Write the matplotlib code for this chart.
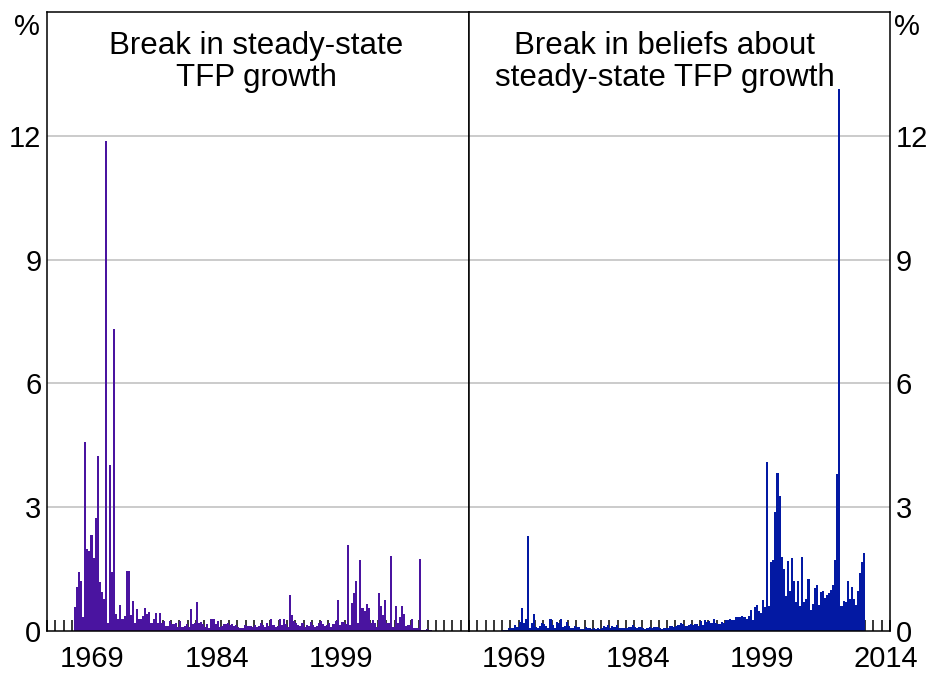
import matplotlib
matplotlib.use("Agg")
import matplotlib.pyplot as plt
import numpy as np
import pandas as pd
from matplotlib.ticker import FixedLocator, FixedFormatter, NullFormatter

plt.rcParams['font.family'] = ['Liberation Sans', 'DejaVu Sans']

# ---------------- data (quarterly probabilities, %) ----------------
left_start = '1967Q2'
left_values = [
    0.59, 1.07, 1.44, 1.22, 0.35, 4.59, 1.99, 1.94, 2.33, 1.78, 2.75, 4.23, 1.18, 0.94, 0.78, 11.88, 0.2, 4.02, 1.43, 7.32,
    0.41, 0.3, 0.63, 0.3, 0.36, 1.45, 1.45, 0.38, 0.72, 0.2, 0.53, 0.3, 0.3, 0.36, 0.55, 0.4, 0.46, 0.2, 0.3, 0.44,
    0.2, 0.44, 0.2, 0.24, 0.13, 0.13, 0.24, 0.18, 0.16, 0.2, 0.1, 0.24, 0.1, 0.13, 0.16, 0.1, 0.53, 0.18, 0.2, 0.7,
    0.2, 0.22, 0.16, 0.1, 0.16, 0.08, 0.3, 0.3, 0.18, 0.24, 0.1, 0.12, 0.16, 0.18, 0.2,
    0.15, 0.18, 0.12, 0.15, 0.1, 0.08, 0.08, 0.15, 0.12, 0.12, 0.12, 0.1, 0.15, 0.1, 0.12, 0.2, 0.15, 0.1, 0.2, 0.12,
    0.3, 0.15, 0.1, 0.12, 0.3, 0.15, 0.3, 0.18, 0.1,
    0.87, 0.39,
    0.25, 0.2, 0.15, 0.12, 0.2, 0.1, 0.15, 0.12, 0.22, 0.15, 0.1, 0.12, 0.2, 0.25, 0.18, 0.12, 0.15, 0.2, 0.1, 0.18, 0.25,
    0.75,
    0.15, 0.22, 0.22, 0.18,
    2.08, 0.15, 0.67, 0.92, 1.2, 0.2, 1.72, 0.55, 0.48, 0.65, 0.55, 0.2, 0.27, 0.2, 0.1,
    0.92, 0.6, 0.39, 0.75, 0.2, 0.2, 1.82, 0.1, 0.6, 0.2, 0.35, 0.6, 0.4, 0.12, 0.15, 0.15, 0.3, 0.08, 0.08, 0.08, 1.75,
    0.03, 0.03, 0.05, 0.03, 0.02,
]

right_start = '1968Q1'
right_values = [
    0.02, 0.02, 0.03, 0.07, 0.07, 0.07, 0.15, 0.1, 0.23, 0.55, 0.2, 0.28, 2.29, 0.07, 0.2, 0.41, 0.1, 0.07, 0.12, 0.2,
    0.17, 0.12, 0.07, 0.28, 0.15, 0.07, 0.23, 0.2, 0.28, 0.1, 0.12, 0.23, 0.12, 0.07, 0.07, 0.12, 0.09, 0.1, 0.04, 0.04,
    0.09, 0.07, 0.08, 0.06, 0.07, 0.05, 0.08, 0.06, 0.07, 0.12, 0.1, 0.15, 0.07, 0.12, 0.09, 0.15, 0.07, 0.08, 0.08, 0.07,
    0.08, 0.1, 0.1, 0.15, 0.1, 0.07, 0.09, 0.1, 0.08, 0.05, 0.07, 0.1, 0.07, 0.1, 0.09, 0.1, 0.07, 0.06, 0.07, 0.08, 0.07,
    0.12, 0.11, 0.1, 0.12, 0.145, 0.2, 0.17, 0.11, 0.12, 0.145, 0.18, 0.145, 0.18, 0.17, 0.12, 0.25, 0.145, 0.26, 0.21,
    0.25, 0.2, 0.28, 0.2, 0.18, 0.18, 0.22, 0.2, 0.26, 0.26, 0.3, 0.26, 0.26, 0.35, 0.33, 0.35, 0.36, 0.33, 0.3, 0.36,
    0.51, 0.26, 0.57, 0.63, 0.49, 0.44, 0.75, 0.59,
    4.1,
    0.6, 1.68, 1.72, 2.89, 3.84, 3.26, 1.8, 1.5, 0.85, 1.69, 0.98, 1.76, 1.21, 0.71, 1.21, 0.61, 1.8, 0.71, 0.77, 1.26,
    0.51, 0.65, 1.05, 1.11, 0.63, 0.94, 0.98, 0.81, 0.87, 0.91, 1.0, 1.11, 1.73, 3.81,
    13.13,
    0.61, 0.72, 0.71, 1.2, 0.77, 1.07, 0.77, 0.63, 0.98, 1.4, 1.68, 1.9,
]

left_title = "Break in steady-state\nTFP growth"
right_title = "Break in beliefs about\nsteady-state TFP growth"
left_xlabels = ['1969', '1984', '1999']
right_xlabels = ['1969', '1984', '1999', '2014']
yticks = [0, 3, 6, 9, 12]
x_range = (1964, 2015)

left_color = '#4A14A0'
right_color = '#0319A3'
FS = 21
TFS = 22.5


def quarter_x(start, n):
    p = pd.period_range(start, periods=n, freq='Q')
    return np.array(p.year + (p.quarter - 1) / 4.0 + 0.125)


W, H = 928, 677
fig = plt.figure(figsize=(W / 100, H / 100), dpi=100)
axL = fig.add_axes([47 / W, 46 / H, 422 / W, 619 / H])
axR = fig.add_axes([469 / W, 46 / H, 421 / W, 619 / H])


def style(ax, xs, vals, color, labels, side):
    for g in yticks[1:]:
        ax.axhline(g, color='#bdbdbd', lw=1.1, zorder=0)
    ax.bar(xs, vals, width=0.25, color=color, linewidth=0, zorder=2, align='center')
    ax.set_xlim(*x_range)
    ax.set_ylim(0, 15)
    years = np.arange(x_range[0], x_range[1] + 1)
    ax.xaxis.set_major_locator(FixedLocator(years))
    ax.xaxis.set_major_formatter(NullFormatter())
    ax.xaxis.set_minor_locator(FixedLocator([int(l) + 0.5 for l in labels]))
    ax.xaxis.set_minor_formatter(FixedFormatter(labels))
    ax.tick_params(axis='x', which='major', direction='in', length=8, width=1.1,
                   color='black', bottom=True, top=False)
    ax.tick_params(axis='x', which='minor', length=0, pad=10, labelsize=FS)
    ax.set_yticks(yticks)
    ax.set_yticklabels([str(v) for v in yticks])
    if side == 'left':
        ax.tick_params(axis='y', length=0, pad=4, labelsize=FS, left=True, right=False,
                       labelleft=True, labelright=False)
    else:
        ax.tick_params(axis='y', length=0, pad=4, labelsize=FS, left=False, right=True,
                       labelleft=False, labelright=True)
    for s in ax.spines.values():
        s.set_linewidth(1.1)
        s.set_color('black')
        s.set_zorder(3)


style(axL, quarter_x(left_start, len(left_values)), left_values, left_color, left_xlabels, 'left')
style(axR, quarter_x(right_start, len(right_values)), right_values, right_color, right_xlabels, 'right')

fig.text(256 / W, 1 - 62 / H, left_title, ha='center', va='center', fontsize=TFS, linespacing=1.1)
fig.text(665 / W, 1 - 62 / H, right_title, ha='center', va='center', fontsize=TFS, linespacing=1.1)
fig.text(27 / W, 1 - 27 / H, '%', ha='center', va='center', fontsize=FS)
fig.text(907 / W, 1 - 27 / H, '%', ha='center', va='center', fontsize=FS)

fig.savefig('out.png', dpi=100)
